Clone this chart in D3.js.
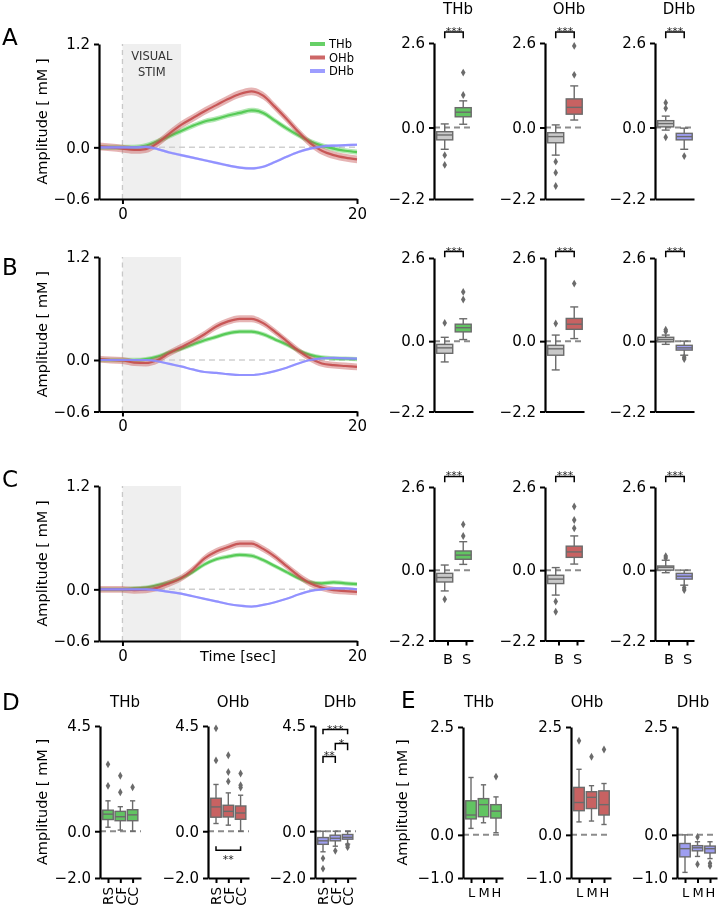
<!DOCTYPE html>
<html><head><meta charset="utf-8">
<script src="https://cdn.jsdelivr.net/npm/d3@7"></script>
<style>body{margin:0;background:#fff}svg{display:block;will-change:transform}</style>
</head><body>
<svg id="fig" width="718" height="908"></svg>
<script>
// ---------------- DATA ----------------
const timeSec = [-2,-1,0,1,2,3,4,5,6,7,8,9,10,11,12,13,14,15,16,17,18,19,20];
const timeDomain = [-2, 20];
const timeTicks = [0, 20];
const stimWindow = [0, 5];
const lineYDomain = [-0.6, 1.2];
const lineYTicks = [-0.6, 0.0, 1.2];
const seriesNames = ["THb", "OHb", "DHb"];

const lineA_THb = [0,0,0,0,0.02,0.07,0.13,0.19,0.25,0.3,0.33,0.37,0.4,0.43,0.4,0.31,0.22,0.14,0.07,0.02,-0.015,-0.04,-0.055];
const lineA_OHb = [0.01,0,-0.015,-0.03,-0.02,0.05,0.16,0.26,0.34,0.42,0.49,0.56,0.62,0.65,0.6,0.47,0.33,0.18,0.05,-0.04,-0.09,-0.12,-0.14];
const lineA_DHb = [0,0,0,0,0.005,-0.02,-0.06,-0.09,-0.12,-0.15,-0.18,-0.21,-0.235,-0.245,-0.225,-0.17,-0.11,-0.055,-0.015,0.01,0.02,0.025,0.03];
const lineB_THb = [0,0,0,0,0.01,0.04,0.09,0.13,0.18,0.23,0.27,0.31,0.33,0.33,0.3,0.24,0.18,0.11,0.06,0.03,0.02,0.015,0.01];
const lineB_OHb = [0.01,0,-0.006,-0.03,-0.035,0,0.08,0.15,0.22,0.3,0.39,0.45,0.48,0.48,0.43,0.33,0.22,0.11,0.02,-0.04,-0.06,-0.07,-0.08];
const lineB_DHb = [0,0,0,0,0,-0.015,-0.045,-0.075,-0.11,-0.14,-0.15,-0.165,-0.175,-0.175,-0.16,-0.13,-0.09,-0.04,0,0.02,0.025,0.02,0.015];
const lineC_THb = [0,0,0,0.01,0.02,0.05,0.08,0.13,0.2,0.29,0.35,0.38,0.4,0.39,0.34,0.27,0.2,0.13,0.08,0.07,0.08,0.07,0.06];
const lineC_OHb = [0,0,0,-0.01,-0.005,0.02,0.07,0.13,0.23,0.36,0.44,0.49,0.53,0.53,0.47,0.38,0.27,0.16,0.07,0.02,-0.01,-0.02,-0.03];
const lineC_DHb = [0,0,0,0,0,-0.01,-0.03,-0.05,-0.08,-0.11,-0.14,-0.17,-0.19,-0.2,-0.18,-0.15,-0.11,-0.06,-0.02,0,0.01,0.01,0];
const semA = [0.03, 0.045, 0.015];
const semB = [0.025, 0.04, 0.012];
const semC = [0.025, 0.04, 0.012];

// box stats: [whisker low, q1, median, q3, whisker high, [outliers]]
const bsCategories = ["B", "S"];
const bsYDomain = [-2.2, 2.6];
const bsYTicks = [-2.2, 0.0, 2.6];
const boxA_THb = [[-0.67,-0.38,-0.23,-0.13,0.11,[-0.85,-1.15]], [0.1,0.33,0.47,0.61,0.82,[1.0,1.69]]];
const boxA_OHb = [[-0.85,-0.47,-0.28,-0.16,0.08,[-1.05,-1.39,-1.8]], [0.23,0.41,0.62,0.88,1.28,[1.62,2.51]]];
const boxA_DHb = [[-0.08,0.02,0.12,0.21,0.35,[0.59,0.76,-0.3]], [-0.67,-0.38,-0.28,-0.18,-0.02,[-0.88]]];
const boxB_THb = [[-0.65,-0.38,-0.21,-0.1,0.12,[0.57]], [0.05,0.29,0.42,0.53,0.7,[1.3,1.54]]];
const boxB_OHb = [[-0.9,-0.44,-0.24,-0.13,0.19,[0.55]], [0.08,0.37,0.53,0.71,1.07,[1.8]]];
const boxB_DHb = [[-0.1,-0.02,0.05,0.12,0.19,[0.3,0.36]], [-0.44,-0.28,-0.21,-0.13,0.0,[-0.5,-0.56]]];
const boxC_THb = [[-0.65,-0.37,-0.23,-0.1,0.16,[-0.91]], [0.18,0.34,0.47,0.6,0.89,[1.07,1.43]]];
const boxC_OHb = [[-0.78,-0.42,-0.28,-0.16,0.08,[-0.98,-1.3]], [0.19,0.4,0.57,0.75,1.07,[1.31,1.57,1.99]]];
const boxC_DHb = [[-0.08,0.0,0.09,0.13,0.31,[0.38,0.44]], [-0.47,-0.28,-0.19,-0.1,0.0,[-0.55,-0.62]]];
const bsBracketLevels = [[2.94, 2.75], [2.8, 2.62], [2.93, 2.75]];

const regionCategories = ["RS", "CF", "CC"];
const regionYDomain = [-2.0, 4.5];
const regionYTicks = [-2.0, 0.0, 4.5];
const boxD_THb = [[0.17,0.5,0.73,0.9,1.3,[1.94,2.86]], [0.05,0.45,0.62,0.85,1.05,[1.67,2.37]], [0.0,0.45,0.7,0.92,1.3,[1.88]]];
const boxD_OHb = [[0.33,0.6,1.04,1.41,2.0,[3.03,4.4]], [0.26,0.61,0.85,1.11,1.64,[2.13,2.53,3.25]], [0.0,0.51,0.78,1.08,1.54,[1.87,1.97,2.47]]];
const boxD_DHb = [[-0.88,-0.56,-0.41,-0.27,0.0,[-1.16,-1.6]], [-0.64,-0.41,-0.3,-0.17,0.0,[-0.84]], [-0.55,-0.34,-0.26,-0.14,0.0,[-0.6,-0.68]]];
// brackets: [from, to, level, legEnd, label]
const bracketsD_OHb = [[0, 2, -0.81, -0.64, "**"]];
const bracketsD_DHb = [[0, 2, 4.35, 4.15, "***"], [1, 2, 3.75, 3.46, "*"], [0, 1, 3.2, 2.92, "**"]];

const intensityCategories = ["L", "M", "H"];
const intensityYDomain = [-1.0, 2.5];
const intensityYTicks = [-1.0, 0.0, 2.5];
const boxE_THb = [[0.15,0.37,0.46,0.79,1.33,[]], [0.28,0.42,0.7,0.84,1.16,[]], [0.05,0.39,0.55,0.7,0.88,[1.35]]];
const boxE_OHb = [[0.3,0.56,0.75,1.1,1.52,[2.18]], [0.32,0.61,0.87,1.0,1.14,[1.81]], [0.24,0.46,0.7,1.02,1.19,[1.98]]];
const boxE_DHb = [[-0.87,-0.51,-0.32,-0.2,0.0,[]], [-0.5,-0.37,-0.3,-0.25,-0.16,[-0.05,-0.68]], [-0.55,-0.42,-0.32,-0.26,-0.16,[-0.66,-0.72]]];

// ---------------- STYLE ----------------
const FONT = "'DejaVu Sans', sans-serif";
const lineColors = ["#4cc84c", "#c44c4c", "#8c8cff"];
const boxFills = ["#62c462", "#c86262", "#9e9ef0"];
const grayFill = "#c9c9c9";
const edge = "#6b6b6b";
const fmt1 = d3.format(".1f");

const svg = d3.select("#fig");

function styleAxis(sel, fs) {
  sel.select(".domain").attr("stroke", "#000").attr("stroke-width", 2.2);
  sel.selectAll(".tick line").attr("stroke", "#000").attr("stroke-width", 2);
  sel.selectAll(".tick text").attr("fill", "#000").attr("font-size", fs).attr("font-family", FONT);
}

function text(x, y, str, fs, opts = {}) {
  const t = svg.append("text").attr("x", x).attr("y", y).text(str)
    .attr("font-family", FONT).attr("font-size", fs).attr("fill", opts.fill || "#000")
    .attr("text-anchor", opts.anchor || "middle");
  if (opts.rotate) t.attr("transform", `rotate(-90 ${x} ${y})`);
  return t;
}

// ---------------- LINE PANELS ----------------
function linePanel(top, bottom, series, sem, opts) {
  const x = d3.scaleLinear().domain(timeDomain).range([99, 357]);
  const y = d3.scaleLinear().domain(lineYDomain).range([bottom, top]);
  const g = svg.append("g");
  g.append("rect").attr("x", x(stimWindow[0])).attr("y", y(lineYDomain[1]))
    .attr("width", x(stimWindow[1]) - x(stimWindow[0]))
    .attr("height", y(lineYDomain[0]) - y(lineYDomain[1])).attr("fill", "#efefef");
  g.append("line").attr("x1", x(0)).attr("x2", x(0)).attr("y1", y(lineYDomain[0])).attr("y2", y(lineYDomain[1]))
    .attr("stroke", "#c8c8c8").attr("stroke-width", 1.3).attr("stroke-dasharray", "5,4");
  g.append("line").attr("x1", x(timeDomain[0])).attr("x2", x(timeDomain[1])).attr("y1", y(0)).attr("y2", y(0))
    .attr("stroke", "#cfcfcf").attr("stroke-width", 1.5).attr("stroke-dasharray", "6,4");
  series.forEach((vals, i) => {
    const area = d3.area().x((d, j) => x(timeSec[j])).y0(d => y(d - sem[i])).y1(d => y(d + sem[i])).curve(d3.curveMonotoneX);
    g.append("path").datum(vals).attr("d", area).attr("fill", lineColors[i]).attr("fill-opacity", 0.42);
    const line = d3.line().x((d, j) => x(timeSec[j])).y(d => y(d)).curve(d3.curveMonotoneX);
    g.append("path").datum(vals).attr("d", line).attr("fill", "none").attr("stroke", lineColors[i])
      .attr("stroke-width", 2.2).attr("stroke-opacity", 0.9);
  });
  const ya = g.append("g").attr("transform", `translate(${x(timeDomain[0])},0)`)
    .call(d3.axisLeft(y).tickValues(lineYTicks).tickFormat(fmt1).tickSize(5).tickSizeOuter(0).tickPadding(4));
  styleAxis(ya, 15);
  const xa = g.append("g").attr("transform", `translate(0,${bottom})`)
    .call(d3.axisBottom(x).tickValues(timeTicks).tickFormat(d3.format("d")).tickSize(5).tickSizeOuter(0).tickPadding(4));
  styleAxis(xa, 15);
  text(47, (top + bottom) / 2, "Amplitude [ mM ]", 14.5, { rotate: true });
  if (opts.legend) {
    seriesNames.forEach((n, i) => {
      const yy = top + i * 13.5;
      g.append("line").attr("x1", 310).attr("x2", 325).attr("y1", yy).attr("y2", yy)
        .attr("stroke", lineColors[i]).attr("stroke-width", 4).attr("stroke-opacity", 0.85);
      text(329, yy + 4, n, 11.5, { anchor: "start" });
    });
  }
  if (opts.stimText) {
    const cx = (x(stimWindow[0]) + x(stimWindow[1])) / 2;
    text(cx, top + 16, "VISUAL", 11.5, { fill: "#333" });
    text(cx, top + 32, "STIM", 11.5, { fill: "#333" });
  }
  if (opts.xlabel) text(238, bottom + 20, "Time [sec]", 14.5);
}

linePanel(44, 199, [lineA_THb, lineA_OHb, lineA_DHb], semA, { legend: true, stimText: true });
linePanel(257, 411.5, [lineB_THb, lineB_OHb, lineB_DHb], semB, {});
linePanel(486, 641, [lineC_THb, lineC_OHb, lineC_DHb], semC, { xlabel: true });

// ---------------- BOX PANELS ----------------
function boxPanel(c) {
  const x = d3.scaleLinear().domain([-c.offset / c.spacing, (c.width - c.offset) / c.spacing]).range([c.spineX, c.spineX + c.width]);
  const y = d3.scaleLinear().domain(c.yDomain).range([c.bottom, c.top]);
  const g = svg.append("g");
  g.append("line").attr("x1", c.spineX).attr("x2", c.spineX + c.width).attr("y1", y(0)).attr("y2", y(0))
    .attr("stroke", "#8c8c8c").attr("stroke-width", 2).attr("stroke-dasharray", "6,4");
  c.stats.forEach((s, i) => {
    const [lo, q1, med, q3, hi, fl] = s;
    const cx = x(i + c.dodge);
    const bw = c.boxW, cap = bw / 2;
    const fill = c.fills[i];
    g.append("line").attr("x1", cx).attr("x2", cx).attr("y1", y(hi)).attr("y2", y(q3)).attr("stroke", edge).attr("stroke-width", 1.4);
    g.append("line").attr("x1", cx).attr("x2", cx).attr("y1", y(q1)).attr("y2", y(lo)).attr("stroke", edge).attr("stroke-width", 1.4);
    [hi, lo].forEach(v => g.append("line").attr("x1", cx - cap / 2).attr("x2", cx + cap / 2).attr("y1", y(v)).attr("y2", y(v)).attr("stroke", edge).attr("stroke-width", 1.4));
    g.append("rect").attr("x", cx - bw / 2).attr("y", y(q3)).attr("width", bw).attr("height", Math.max(1, y(q1) - y(q3)))
      .attr("fill", fill).attr("stroke", edge).attr("stroke-width", 1.4);
    g.append("line").attr("x1", cx - bw / 2).attr("x2", cx + bw / 2).attr("y1", y(med)).attr("y2", y(med)).attr("stroke", edge).attr("stroke-width", 1.4);
    fl.forEach(v => g.append("path").attr("d", d3.symbol(d3.symbolDiamond, 18)()).attr("transform", `translate(${cx},${y(v)})`).attr("fill", edge));
  });
  (c.brackets || []).forEach(([a, b, lvl, leg, lab]) => {
    const x1 = x(a + c.dodge), x2 = x(b + c.dodge);
    g.append("path").attr("d", `M${x1},${y(leg)}V${y(lvl)}H${x2}V${y(leg)}`).attr("fill", "none").attr("stroke", "#000").attr("stroke-width", 1.5);
    const ty = lvl > leg ? y(lvl) + 3 : y(lvl) + 13;
    text((x1 + x2) / 2, ty, lab, 11, { fill: "#222" });
  });
  const ya = g.append("g").attr("transform", `translate(${c.spineX},0)`)
    .call(d3.axisLeft(y).tickValues(c.yTicks).tickFormat(fmt1).tickSize(5).tickSizeOuter(0).tickPadding(4));
  styleAxis(ya, 15);
  const xTickVals = c.noXTicks ? [] : d3.range(c.cats.length);
  const xa = g.append("g").attr("transform", `translate(0,${c.bottom})`)
    .call(d3.axisBottom(x).tickValues(xTickVals).tickFormat(i => c.cats[i]).tickSize(5).tickSizeOuter(0).tickPadding(c.tickPad || 6));
  styleAxis(xa, c.tickFs || 14.5);
  if (c.rotate) {
    xa.selectAll(".tick text").attr("transform", "rotate(-90)").attr("text-anchor", "end")
      .attr("x", -9).attr("y", 0).attr("dy", "0.35em");
  }
  if (c.title) text(c.titleX, c.titleY, c.title, 15);
  if (c.ylabel) text(c.ylabelX, (c.top + c.bottom) / 2, "Amplitude [ mM ]", 14.5, { rotate: true });
}

const bsSpines = [434, 545, 655];
const bsRows = [
  { top: 43, bottom: 199, data: [boxA_THb, boxA_OHb, boxA_DHb] },
  { top: 258, bottom: 411.5, data: [boxB_THb, boxB_OHb, boxB_DHb] },
  { top: 487, bottom: 640.5, data: [boxC_THb, boxC_OHb, boxC_DHb] },
];
bsRows.forEach((row, r) => {
  row.data.forEach((stats, k) => {
    boxPanel({
      spineX: bsSpines[k], width: 39, offset: 13.5, spacing: 18.5, boxW: 16, dodge: -0.15,
      top: row.top, bottom: row.bottom, yDomain: bsYDomain, yTicks: bsYTicks,
      cats: bsCategories, stats, fills: [grayFill, boxFills[k]], tickPad: 8,
      noXTicks: r < 2,
      brackets: [[0, 1, bsBracketLevels[r][0], bsBracketLevels[r][1], "***"]],
      title: r === 0 ? seriesNames[k] : null, titleX: bsSpines[k] + 24, titleY: 14,
    });
  });
});

const dSpines = [100, 208, 315];
[boxD_THb, boxD_OHb, boxD_DHb].forEach((stats, k) => {
  boxPanel({
    spineX: dSpines[k], width: 41, offset: 8, spacing: 12.3, boxW: 10.5, dodge: 0,
    top: 726, bottom: 878, yDomain: regionYDomain, yTicks: regionYTicks,
    cats: regionCategories, stats, fills: [boxFills[k], boxFills[k], boxFills[k]],
    rotate: true, tickFs: 13.5,
    brackets: k === 1 ? bracketsD_OHb : (k === 2 ? bracketsD_DHb : []),
    title: seriesNames[k], titleX: dSpines[k] + 25, titleY: 707,
    ylabel: k === 0, ylabelX: 47,
  });
});

const eSpines = [463, 571, 677];
[boxE_THb, boxE_OHb, boxE_DHb].forEach((stats, k) => {
  boxPanel({
    spineX: eSpines[k], width: 40, offset: 8, spacing: 12.5, boxW: 10.5, dodge: 0,
    top: 727, bottom: 878, yDomain: intensityYDomain, yTicks: intensityYTicks,
    cats: intensityCategories, stats, fills: [boxFills[k], boxFills[k], boxFills[k]],
    tickFs: 13, tickPad: 5,
    title: seriesNames[k], titleX: eSpines[k] + 16, titleY: 707,
    ylabel: k === 0, ylabelX: 407,
  });
});

// panel letters
[["A", 2, 45], ["B", 2, 275], ["C", 2, 487], ["D", 2, 710], ["E", 401, 708]].forEach(([l, x, y]) => text(x, y, l, 23, { anchor: "start" }));
</script>
</body></html>
